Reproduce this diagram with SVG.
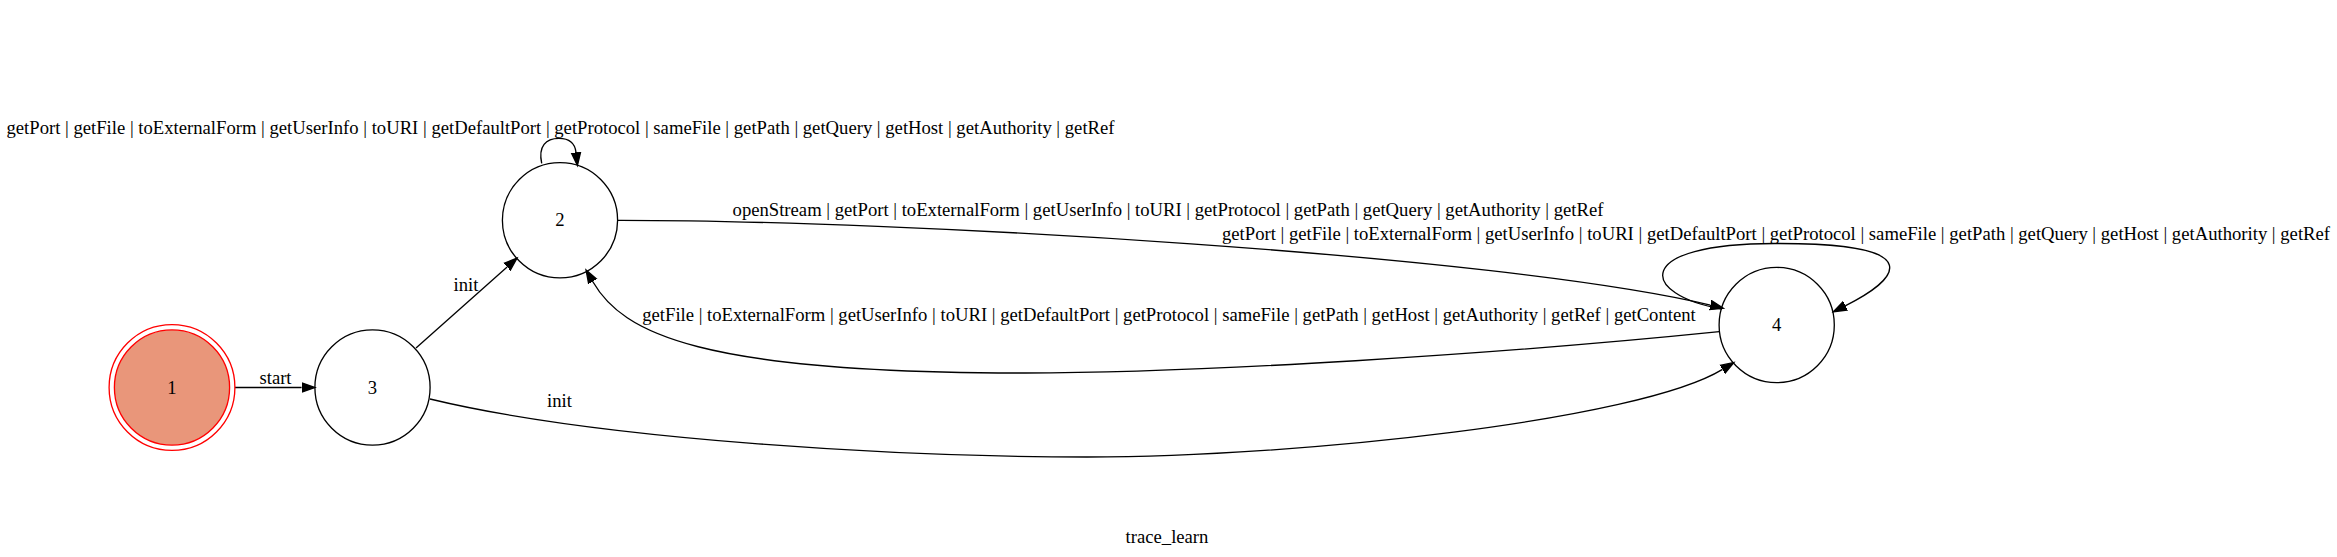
<svg xmlns="http://www.w3.org/2000/svg" width="2337" height="557" viewBox="0 0 2337 557">
<style>
text { font-family: "Liberation Serif", "Times New Roman", serif; font-size: 18.67px; fill: #000; text-anchor: middle; }
.node { fill: none; stroke: #000; stroke-width: 1.33; }
.edge { fill: none; stroke: #000; stroke-width: 1.33; }
</style>
<defs>
<marker id="arrow" markerUnits="userSpaceOnUse" markerWidth="16" markerHeight="12" refX="0" refY="6" orient="auto" viewBox="0 0 16 12">
<path d="M0,1.33 L13.3,6 L0,10.67 Z" fill="#000" stroke="#000" stroke-width="1.33"/>
</marker>
</defs>
<rect width="2337" height="557" fill="#fff"/>
<g id="edges">
<path class="edge" marker-end="url(#arrow)" d="M234.9,387.5 L301.6,387.5"/>
<text x="275.5" y="384">start</text>
<path class="edge" marker-end="url(#arrow)" d="M416,348 L507.1,266.9"/>
<text x="466" y="290.5">init</text>
<path class="edge" marker-end="url(#arrow)" d="M430,399 C600,440 900,457 1087,457 C1300,457 1640,420 1722.5,369.4"/>
<text x="559.5" y="406.5">init</text>
<path class="edge" marker-end="url(#arrow)" d="M541.7,163.3 C538,146 546,138.3 559,138.3 C569,138.3 575,143 576,152.4"/>
<text x="560.5" y="134">getPort | getFile | toExternalForm | getUserInfo | toURI | getDefaultPort | getProtocol | sameFile | getPath | getQuery | getHost | getAuthority | getRef</text>
<path class="edge" marker-end="url(#arrow)" d="M617.3,220.3 C900,220 1500,255 1710.4,305.1"/>
<text x="1168" y="216">openStream | getPort | toExternalForm | getUserInfo | toURI | getProtocol | getPath | getQuery | getAuthority | getRef</text>
<path class="edge" marker-end="url(#arrow)" d="M1719.3,331.7 C1500,354 1200,373 1025,373 C700,373 622.7,333.5 592.7,281.5"/>
<text x="1169" y="321">getFile | toExternalForm | getUserInfo | toURI | getDefaultPort | getProtocol | sameFile | getPath | getHost | getAuthority | getRef | getContent</text>
<path class="edge" marker-end="url(#arrow)" d="M1722,309 C1640,295 1630,243 1776.5,243.5 C1935,243 1895.9,280.4 1845.2,305.8"/>
<text x="1776" y="240">getPort | getFile | toExternalForm | getUserInfo | toURI | getDefaultPort | getProtocol | sameFile | getPath | getQuery | getHost | getAuthority | getRef</text>
</g>
<g id="node1">
<circle cx="172" cy="387.5" r="57.6" fill="#e9967a" stroke="#ff0000" stroke-width="1.33"/>
<circle cx="172" cy="387.5" r="62.9" fill="none" stroke="#ff0000" stroke-width="1.33"/>
<text x="172" y="393.5">1</text>
</g>
<g id="node3">
<circle class="node" cx="372.5" cy="387.5" r="57.6"/>
<text x="372.5" y="393.5">3</text>
</g>
<g id="node2">
<circle class="node" cx="560" cy="220.3" r="57.6"/>
<text x="560" y="226.3">2</text>
</g>
<g id="node4">
<circle class="node" cx="1776.7" cy="325" r="57.6"/>
<text x="1776.7" y="331">4</text>
</g>
<text x="1167" y="543">trace_learn</text>
</svg>
